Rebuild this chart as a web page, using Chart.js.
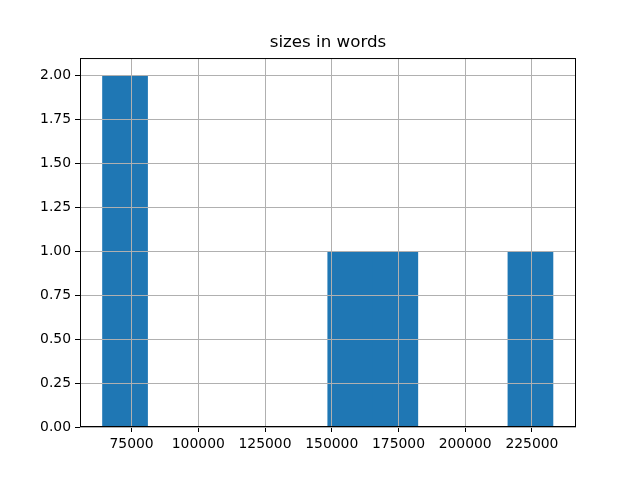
<!DOCTYPE html>
<html>
<head>
<meta charset="utf-8">
<script src="https://cdn.jsdelivr.net/npm/chart.js@4"></script>
<style>
  body { margin: 0; background: #fff; }
  canvas { display: block; }
</style>
</head>
<body>
<canvas id="hist" width="640" height="480"></canvas>
<script>
// Histogram bins (word counts)
const binEdges = [64114, 80991, 97868, 114745, 131622, 148499, 165376, 182253, 199130, 216007, 232884];
const binCounts = [2, 0, 0, 0, 0, 1, 1, 0, 0, 1];
const xTicks = [75000, 100000, 125000, 150000, 175000, 200000, 225000];
const yTicks = [0, 0.25, 0.5, 0.75, 1.0, 1.25, 1.5, 1.75, 2.0];

// bar centers from edges
const points = binCounts.map((c, i) => ({ x: (binEdges[i] + binEdges[i + 1]) / 2, y: c }));

// Draw all four spines like matplotlib
const frame = {
  id: 'frame',
  afterDraw(chart) {
    const { ctx, chartArea: a } = chart;
    ctx.save();
    ctx.strokeStyle = '#000';
    ctx.lineWidth = 1;
    ctx.strokeRect(a.left + 0.5, a.top + 0.5, a.right - a.left - 1, a.bottom - a.top - 1);
    ctx.restore();
  }
};

const tickFont = { family: 'DejaVu Sans', size: 13.9 };

new Chart(document.getElementById('hist'), {
  type: 'bar',
  data: {
    datasets: [{
      data: points,
      backgroundColor: '#1f77b4',
      borderWidth: 0,
      barPercentage: 1.0,
      categoryPercentage: 1.0
    }]
  },
  options: {
    responsive: false,
    animation: false,
    layout: { padding: { left: 16, right: 0, top: 0, bottom: 0 } },
    plugins: {
      legend: { display: false },
      tooltip: { enabled: false },
      title: {
        display: true,
        text: 'sizes in words',
        color: '#000',
        font: { family: 'DejaVu Sans', size: 16.7, weight: 'normal' },
        padding: { top: 33, bottom: 5 }
      }
    },
    scales: {
      x: {
        type: 'linear',
        offset: false,
        min: 55676,
        max: 241516,
        afterBuildTicks: s => { s.ticks = xTicks.map(v => ({ value: v })); },
        afterFit: s => { s.height = 53; },
        grid: { offset: false, z: 1, color: '#b0b0b0', lineWidth: 1, tickColor: '#000', tickLength: 5 },
        border: { display: false },
        ticks: { color: '#000', font: tickFont, padding: 4, maxRotation: 0, autoSkip: false,
                 callback: v => String(v) }
      },
      y: {
        min: 0,
        max: 2.1,
        afterBuildTicks: s => { s.ticks = yTicks.map(v => ({ value: v })); },
        afterFit: s => { s.width = 64; },
        grid: { z: 1, color: '#b0b0b0', lineWidth: 1, tickColor: '#000', tickLength: 5 },
        border: { display: false },
        ticks: { color: '#000', font: tickFont, padding: 4, autoSkip: false,
                 callback: v => v.toFixed(2) }
      },
      // empty right axis to reserve the right margin
      yRight: {
        position: 'right',
        min: 0,
        max: 2.1,
        afterFit: s => { s.width = 64; },
        grid: { display: false, drawTicks: false },
        border: { display: false },
        ticks: { display: false }
      }
    }
  },
  plugins: [frame]
});
</script>
</body>
</html>
